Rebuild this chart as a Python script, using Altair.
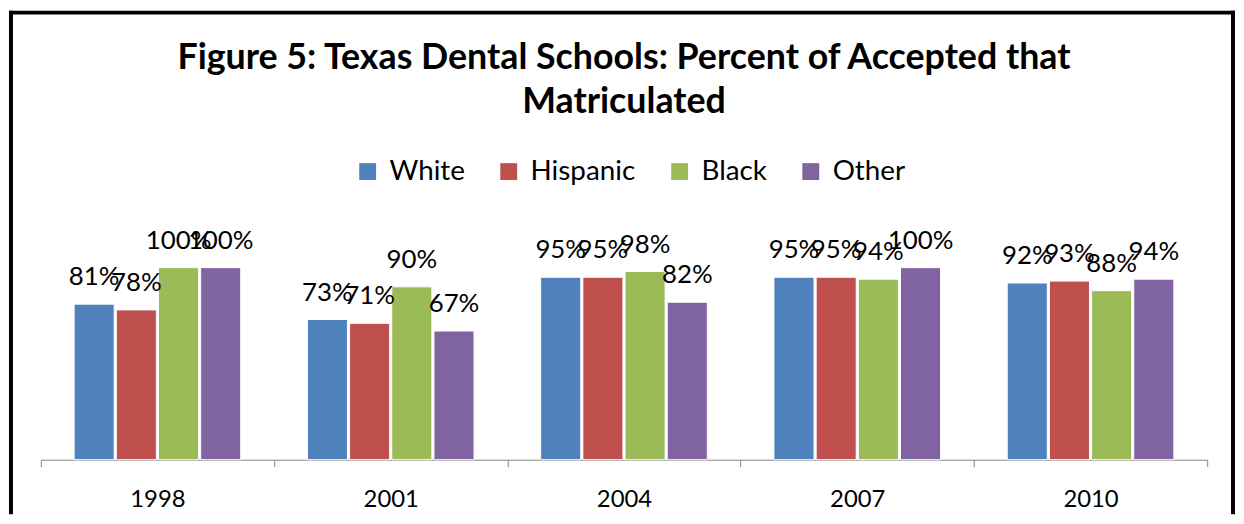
import altair as alt
import pandas as pd

years = ["1998", "2001", "2004", "2007", "2010"]
groups = ["White", "Hispanic", "Black", "Other"]
white = [81, 73, 95, 95, 92]
hispanic = [78, 71, 95, 95, 93]
black = [100, 90, 98, 94, 88]
other = [100, 67, 82, 100, 94]
colors = ["#4F81BD", "#C0504D", "#9BBB59", "#8064A2"]
title_lines = ["Figure 5: Texas Dental Schools: Percent of Accepted that", "Matriculated"]

rows = []
for g, vals in zip(groups, [white, hispanic, black, other]):
    for y, v in zip(years, vals):
        rows.append({"Year": y, "Group": g, "Value": v / 100})
df = pd.DataFrame(rows)

W = 1174
H = 232
FONT = "Lato"

x_enc = alt.X("Year:N", sort=years, title=None,
              scale=alt.Scale(paddingInner=0, paddingOuter=0),
              axis=alt.Axis(labelAngle=0, labelFont=FONT, labelFontSize=24, labelColor="#000000",
                            domainColor="#868686", tickColor="#868686", tickSize=7,
                            tickBand="extent", labelPadding=21, grid=False))
xo_enc = alt.XOffset("Group:N", sort=groups,
                     scale=alt.Scale(paddingInner=0.05, paddingOuter=0.79))
y_enc = alt.Y("Value:Q", scale=alt.Scale(domain=[0, 1.2], nice=False), axis=None)

bars = alt.Chart(df).mark_bar(stroke="white", strokeWidth=1).encode(
    x=x_enc, xOffset=xo_enc, y=y_enc,
    color=alt.Color("Group:N", sort=groups,
                    scale=alt.Scale(domain=groups, range=colors),
                    legend=alt.Legend(title=None, orient="none", direction="horizontal",
                                      legendX=315, legendY=-72, padding=0,
                                      symbolType="square", symbolSize=289, symbolStrokeWidth=0,
                                      labelFont=FONT, labelFontSize=28, labelColor="#000000",
                                      labelOffset=8, columnPadding=30))
)

labels = alt.Chart(df).mark_text(font=FONT, fontSize=26, baseline="alphabetic", dy=-19,
                                 color="#000000").encode(
    x=alt.X("Year:N", sort=years), xOffset=alt.XOffset("Group:N", sort=groups), y="Value:Q",
    text=alt.Text("Value:Q", format=".0%")
)

one = pd.DataFrame({"k": [0]})
title = alt.Chart(one).mark_text(font=FONT, fontSize=36, fontWeight="bold", align="center",
                                 baseline="alphabetic", lineHeight=44.5, color="#000000").encode(
    x=alt.value(W / 2), y=alt.value(-161.5), text=alt.value(title_lines)
)

frame_style = dict(color="#000000", strokeWidth=4, strokeCap="square")
left = alt.Chart(one).mark_rule(**frame_style).encode(
    x=alt.value(-30), y=alt.value(-218), y2=alt.value(285))
right = alt.Chart(one).mark_rule(**frame_style).encode(
    x=alt.value(1200), y=alt.value(-218), y2=alt.value(285))
top = alt.Chart(one).mark_rule(**frame_style).encode(
    x=alt.value(-30), x2=alt.value(1200), y=alt.value(-218))

chart = alt.layer(bars, labels, title, left, right, top).resolve_scale(
    x="shared"
).properties(width=W, height=H, padding=0, background="white").configure_view(
    stroke="transparent", strokeWidth=0
)

chart.save("out.html", embed_options={"renderer": "svg", "actions": False})
